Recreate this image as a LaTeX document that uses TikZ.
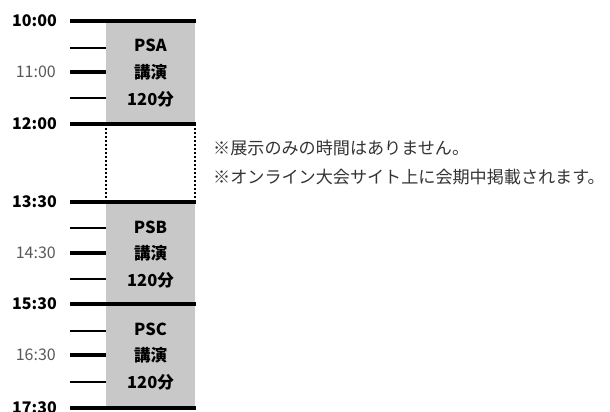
\documentclass[tikz,border=0pt]{standalone}
\usepackage{fontspec}
\setmainfont{Noto Sans CJK JP}
\definecolor{boxgray}{HTML}{C8C8C8}
\definecolor{labgray}{HTML}{595959}
\begin{document}
\begin{tikzpicture}[x=1pt,y=-1pt,
  major/.style={line width=4pt},
  minorthin/.style={line width=1.8pt},
  minorthick/.style={line width=3.6pt},
  blk/.style={fill=boxgray,draw=none},
  tmain/.style={anchor=east,font=\fontsize{16}{16}\selectfont\bfseries,inner sep=0pt},
  tsub/.style={anchor=east,font=\fontsize{16}{16}\selectfont,text=labgray,inner sep=0pt},
  btxt/.style={font=\fontsize{16.5}{16}\selectfont\bfseries,inner sep=0pt},
  note/.style={anchor=west,font=\fontsize{17.1}{17}\selectfont,inner sep=0pt,text=black!80}]
\useasboundingbox (0,0) rectangle (610,412);
% gray blocks
\fill[blk] (106,21) rectangle (195,124);
\fill[blk] (106,202) rectangle (195,304);
\fill[blk] (106,304) rectangle (195,408);
% dotted free period
\draw[line width=2pt,dash pattern=on 2pt off 2pt] (106,124) -- (106,202);
\draw[line width=2pt,dash pattern=on 2pt off 2pt] (195,124) -- (195,202);
% major lines
\foreach \y in {21,124,202,304,408} \draw[major] (70,\y) -- (196,\y);
% minor ticks
\foreach \y in {48,98,228,279,331,382} \draw[minorthin] (70,\y) -- (106,\y);
\foreach \y in {72,253,355} \draw[minorthick] (70,\y) -- (106,\y);
% time labels
\node[tmain] (t1000) at (57,21) {10:00};
\node[tsub]  (t1100) at (56,72) {11:00};
\node[tmain] (t1200) at (57,124) {12:00};
\node[tmain] (t1330) at (57,202) {13:30};
\node[tsub]  (t1430) at (56,253) {14:30};
\node[tmain] (t1530) at (57,304) {15:30};
\node[tsub]  (t1630) at (56,355) {16:30};
\node[tmain] (t1730) at (57,408) {17:30};
% block texts
\node[btxt] (psa) at (150.5,45) {PSA};
\node[btxt] (psak) at (150.5,72) {講演};
\node[btxt] (psam) at (150.5,99) {120分};
\node[btxt] (psb) at (150.5,227) {PSB};
\node[btxt] (psbk) at (150.5,253) {講演};
\node[btxt] (psbm) at (150.5,280) {120分};
\node[btxt] (psc) at (150.5,329) {PSC};
\node[btxt] (psck) at (150.5,355) {講演};
\node[btxt] (pscm) at (150.5,382) {120分};
% notes
\node[note] (n1) at (213,148) {※展示のみの時間はありません。};
\node[note] (n2) at (213,177) {※オンライン大会サイト上に会期中掲載されます。};
\end{tikzpicture}
\end{document}
